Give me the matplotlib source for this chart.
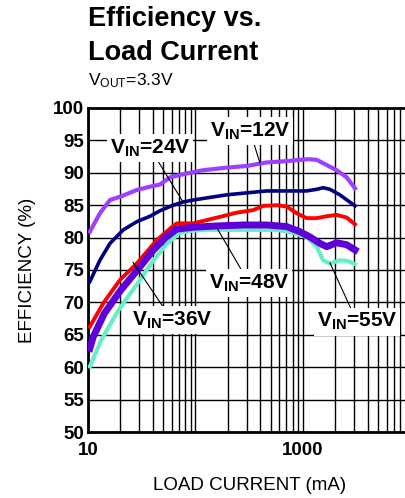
""" Efficiency vs. load current, VOUT=3.3V
"""

import numpy as np
import matplotlib
matplotlib.use('Agg')
import matplotlib.pyplot as plt
from matplotlib.ticker import FixedLocator, LogLocator, NullFormatter

plt.rcParams['font.family'] = ['Liberation Sans', 'DejaVu Sans']
plt.rcParams['mathtext.default'] = 'regular'

# 12V
i_12 = [10.4, 12.9, 16.0, 20.6, 28.4, 37.8, 46.8, 58, 82.8, 118, 195, 299,
        459, 705, 938, 1120, 1340, 1660, 2056, 2547, 3047]
e_12 = [80.9, 83.75, 85.8, 86.4, 87.35, 87.86, 88.2, 89.3, 89.9, 90.4, 90.8,
        91.05, 91.6, 91.8, 92.0, 92.1, 92.0, 91.2, 90.4, 89.3, 87.6]
# 24V
i_24 = [10.4, 12.9, 16.0, 21.3, 28.4, 37.8, 46.8, 62, 77, 95.4, 136, 195,
        299, 459, 705, 1080, 1340, 1540, 1780, 2200, 3047]
e_24 = [73.2, 76.5, 79.1, 81.2, 82.45, 83.3, 84.15, 85.0, 85.5, 85.8, 86.2,
        86.6, 86.9, 87.2, 87.2, 87.2, 87.45, 87.7, 87.45, 86.6, 84.9]
# 36V
i_36 = [10.4, 13.9, 19.9, 28.4, 43.6, 58, 67, 77, 95.4, 127, 169, 242, 345,
        428, 570, 705, 875, 1080, 1340, 1660, 2056, 2547, 3047]
e_36 = [66.25, 69.9, 73.5, 76.0, 79.6, 81.4, 82.2, 82.2, 82.2, 82.7, 83.2,
        83.85, 84.25, 84.9, 85.0, 84.8, 83.75, 83.0, 83.0, 83.3, 83.5, 83.1,
        82.05]
# 48V
i_48 = [10.4, 11.2, 14.2, 20.2, 28.8, 40.7, 53.4, 66.6, 95.4, 158, 281,
        459, 705, 938, 1160, 1440, 1660, 2056, 2547, 3047]
e_48 = [62.9, 64.7, 68.3, 71.9, 75.0, 78.1, 80.1, 81.3, 81.6, 81.8, 81.95,
        81.95, 81.7, 80.9, 80.1, 79.1, 78.6, 79.2, 78.9, 78.1]
# 55V
i_55 = [10.4, 13.3, 19.2, 28.8, 40.7, 53.4, 70.5, 95.4, 136, 281, 570, 800,
        1080, 1340, 1540, 1780, 2200, 2600, 3047]
e_55 = [60.1, 64.2, 68.8, 72.9, 76.5, 78.9, 80.7, 81.1, 81.2, 81.2, 81.2,
        80.75, 80.1, 78.6, 76.5, 76.0, 76.5, 76.4, 75.9]

y_ticks = [50, 55, 60, 65, 70, 75, 80, 85, 90, 95, 100]
x_ticks = [10, 1000]
x_ticklabels = ['10', '1000']

labels = ['V$_{IN}$=12V', 'V$_{IN}$=24V', 'V$_{IN}$=36V',
          'V$_{IN}$=48V', 'V$_{IN}$=55V']


def main():
    fig = plt.figure(figsize=(4.05, 4.98), dpi=100)
    ax = fig.add_axes([88 / 405., 66 / 498., 322.5 / 405., 324 / 498.])
    ax.set_xscale('log')
    ax.set_xlim(10, 10000)
    ax.set_ylim(50, 100)
    # Grid
    ax.xaxis.set_major_locator(FixedLocator(x_ticks))
    ax.xaxis.set_minor_locator(LogLocator(base=10, subs=np.arange(2, 10)))
    ax.xaxis.set_minor_formatter(NullFormatter())
    ax.set_xticklabels(x_ticklabels)
    ax.set_yticks(y_ticks)
    ax.grid(True, which='both', color='black', lw=1.0, zorder=0)
    ax.vlines([100], 50, 100, color='black', lw=1.0, zorder=0.5)
    ax.tick_params(which='both', length=0)
    ax.tick_params(axis='y', labelsize=13.5, pad=3)
    ax.tick_params(axis='x', labelsize=13.5, pad=7)
    for t in ax.get_xticklabels() + ax.get_yticklabels():
        t.set_fontweight('bold')
    for s in ['left', 'bottom', 'top']:
        ax.spines[s].set_linewidth(2.0)
    ax.spines['right'].set_visible(False)
    ax.set_axisbelow(True)
    # Curves
    ax.plot(i_12, e_12, color='#A040FF', lw=3.0, zorder=3)
    ax.plot(i_24, e_24, color='#000080', lw=2.6, zorder=3)
    ax.plot(i_36, e_36, color='#FF0000', lw=2.8, zorder=3)
    ax.plot(i_55, e_55, color='#66EEC8', lw=3.0, zorder=3)
    ax.plot(i_48, e_48, color='#6000D8', lw=5.0, zorder=4)
    # Labels with leader lines
    pos = [(321, 96.45), (37.8, 93.8), (60.4, 67.3), (315, 73.0),
           (3180, 67.0)]
    tips = [(398, 91.5), (76.5, 85.5), (26.2, 76.2), (158, 81.5),
            (1780, 76.1)]
    for lab, p, t in zip(labels, pos, tips):
        ax.annotate(lab, xy=t, xytext=p, ha='center', va='center',
                    fontsize=15, fontweight='bold', zorder=6,
                    bbox=dict(boxstyle='square,pad=0.15', fc='white',
                              ec='none'),
                    arrowprops=dict(arrowstyle='-', color='black', lw=0.8,
                                    shrinkA=0, shrinkB=0))
    ax.set_xlabel('LOAD CURRENT (mA)', fontsize=13.5, labelpad=13)
    ax.set_ylabel('EFFICIENCY (%)', fontsize=13.5, labelpad=12)
    # Title
    fig.text(88 / 405., 1 - 26 / 498., 'Efficiency vs.', fontsize=19.5,
             fontweight='bold', ha='left', va='baseline')
    fig.text(88 / 405., 1 - 60 / 498., 'Load Current', fontsize=19.5,
             fontweight='bold', ha='left', va='baseline')
    fig.text(88 / 405., 1 - 85 / 498., 'V$_{OUT}$=3.3V', fontsize=12.5,
             ha='left', va='baseline')
    plt.savefig('out.png', dpi=100)
    return True


if __name__ == '__main__':
    main()
